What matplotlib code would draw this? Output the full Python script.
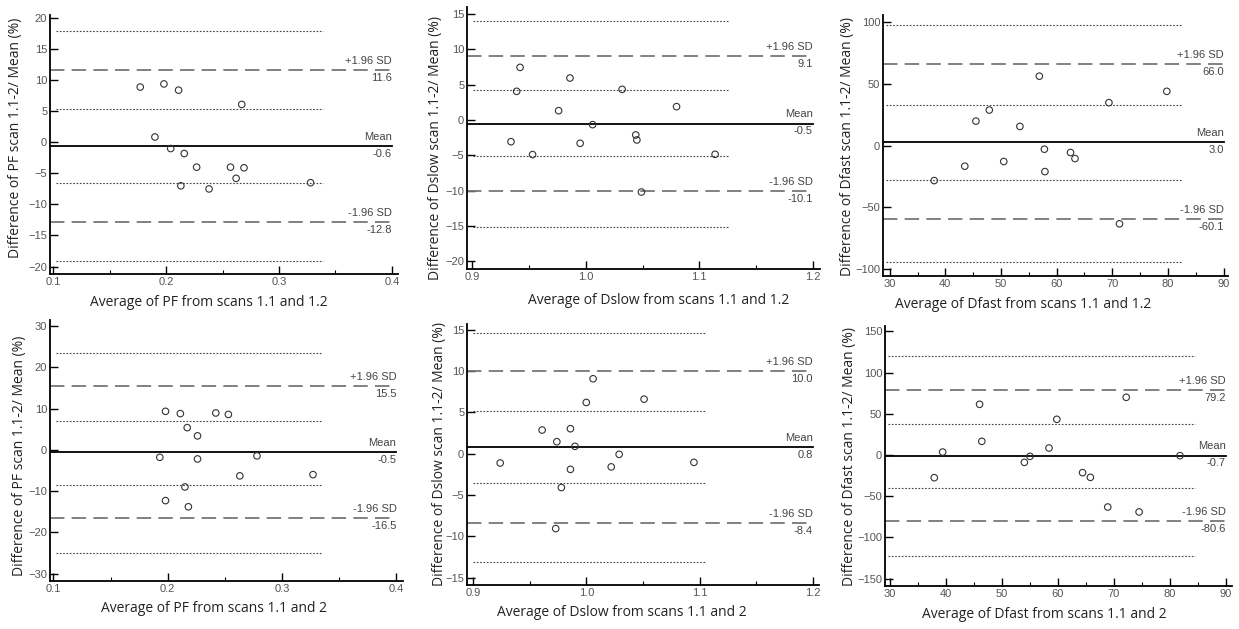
import matplotlib
matplotlib.use("Agg")
import matplotlib.pyplot as plt

# Bland-Altman: % diferenca vs media, 6 paineis (PF, Dslow, Dfast; scans 1.1-1.2 e 1.1-2)
W, H = 1239, 629

# --- dados ---
pf_12_x = [0.177, 0.198, 0.211, 0.267, 0.190, 0.204, 0.216, 0.227, 0.213, 0.238, 0.257, 0.262, 0.269, 0.328]
pf_12_y = [8.9, 9.4, 8.4, 6.1, 0.86, -1.0, -1.8, -4.0, -7.0, -7.5, -4.0, -5.8, -4.1, -6.5]
pf_12_stats = [-0.6, 11.6, -12.8]          # media, +1.96SD, -1.96SD
pf_12_ci = [17.9, 5.3, -6.5, -19.1]

dslow_12_x = [0.942, 0.939, 0.986, 0.976, 0.934, 0.953, 0.995, 1.006, 1.032, 1.044, 1.045, 1.049, 1.080, 1.114]
dslow_12_y = [7.45, 4.06, 5.94, 1.32, -3.07, -4.9, -3.3, -0.66, 4.34, -2.12, -2.83, -10.2, 1.89, -4.86]
dslow_12_stats = [-0.5, 9.1, -10.1]
dslow_12_ci = [14.0, 4.2, -5.1, -15.2]

dfast_12_x = [38.0, 43.5, 45.5, 47.9, 50.5, 53.4, 56.9, 57.8, 57.9, 62.5, 63.3, 69.4, 71.3, 79.8]
dfast_12_y = [-28.5, -16.8, 19.8, 28.8, -13.0, 15.5, 56.3, -3.0, -21.2, -5.7, -10.6, 34.8, -63.6, 44.0]
dfast_12_stats = [3.0, 66.0, -60.1]
dfast_12_ci = [98.1, 33.2, -28.3, -94.3]

pf_2_x = [0.198, 0.211, 0.242, 0.253, 0.217, 0.226, 0.193, 0.226, 0.278, 0.263, 0.327, 0.215, 0.198, 0.218]
pf_2_y = [9.35, 8.8, 8.95, 8.6, 5.4, 3.4, -1.8, -2.2, -1.45, -6.3, -6.0, -9.0, -12.3, -13.8]
pf_2_stats = [-0.5, 15.5, -16.5]
pf_2_ci = [23.5, 7.1, -8.4, -25.0]

dslow_2_x = [0.924, 0.961, 0.974, 0.986, 0.990, 0.986, 0.978, 0.973, 1.000, 1.006, 1.022, 1.029, 1.051, 1.095]
dslow_2_y = [-1.13, 2.86, 1.45, 3.02, 0.89, -1.9, -4.1, -9.07, 6.2, 9.07, -1.6, -0.08, 6.6, -1.05]
dslow_2_stats = [0.8, 10.0, -8.4]
dslow_2_ci = [14.6, 5.2, -3.6, -13.1]

dfast_2_x = [37.9, 39.4, 46.0, 46.4, 54.0, 55.0, 58.4, 59.8, 64.4, 65.8, 68.9, 72.2, 74.5, 81.8]
dfast_2_y = [-27.5, 3.6, 61.5, 16.6, -8.9, -1.6, 8.5, 43.3, -21.4, -27.1, -63.1, 70.0, -69.1, -0.8]
dfast_2_stats = [-0.7, 79.2, -80.6]
dfast_2_ci = [120.3, 37.5, -40.5, -122.3]

paineis = [
    dict(x=pf_12_x, y=pf_12_y, st=pf_12_stats, ci=pf_12_ci, box=(50, 15, 398, 274),
         xlim=(0.097, 0.4055), ylim=(-21.2, 20.5), xt=[0.1, 0.2, 0.3, 0.4], xfmt="%.1f",
         yt=[20, 15, 10, 5, 0, -5, -10, -15, -20], dot_end=0.339,
         xl="Average of PF from scans 1.1 and 1.2", yl="Difference of PF scan 1.1-2/ Mean (%)",
         xlpos=(209, 302), ylpos=(16, 138)),
    dict(x=dslow_12_x, y=dslow_12_y, st=dslow_12_stats, ci=dslow_12_ci, box=(467, 7, 820, 269),
         xlim=(0.8952, 1.2065), ylim=(-21.1, 16.0), xt=[0.9, 1.0, 1.1, 1.2], xfmt="%.1f",
         yt=[15, 10, 5, 0, -5, -10, -15, -20], dot_end=1.1256,
         xl="Average of Dslow from scans 1.1 and 1.2", yl="Difference of Dslow scan 1.1-2/ Mean (%)",
         xlpos=(659, 300), ylpos=(435, 148)),
    dict(x=dfast_12_x, y=dfast_12_y, st=dfast_12_stats, ci=dfast_12_ci, box=(883, 15, 1228, 276),
         xlim=(28.8, 90.8), ylim=(-106, 106), xt=[30, 40, 50, 60, 70, 80, 90], xfmt="%d",
         yt=[100, 50, 0, -50, -100], dot_end=82.4,
         xl="Average of Dfast from scans 1.1 and 1.2", yl="Difference of Dfast scan 1.1-2/ Mean (%)",
         xlpos=(1023, 305), ylpos=(848, 146)),
    dict(x=pf_2_x, y=pf_2_y, st=pf_2_stats, ci=pf_2_ci, box=(50, 320, 403, 581),
         xlim=(0.097, 0.4057), ylim=(-31.8, 31.5), xt=[0.1, 0.2, 0.3, 0.4], xfmt="%.1f",
         yt=[30, 20, 10, 0, -10, -20, -30], dot_end=0.335,
         xl="Average of PF from scans 1.1 and 2", yl="Difference of PF scan 1.1-2/ Mean (%)",
         xlpos=(214, 609), ylpos=(20, 456)),
    dict(x=dslow_2_x, y=dslow_2_y, st=dslow_2_stats, ci=dslow_2_ci, box=(467, 324, 819, 585),
         xlim=(0.8947, 1.2054), ylim=(-15.9, 15.7), xt=[0.9, 1.0, 1.1, 1.2], xfmt="%.1f",
         yt=[15, 10, 5, 0, -5, -10, -15], dot_end=1.106,
         xl="Average of Dslow from scans 1.1 and 2", yl="Difference of Dslow scan 1.1-2/ Mean (%)",
         xlpos=(622, 613), ylpos=(439, 454)),
    dict(x=dfast_2_x, y=dfast_2_y, st=dfast_2_stats, ci=dfast_2_ci, box=(885, 326, 1232, 586),
         xlim=(29.1, 91.1), ylim=(-158.9, 156.5), xt=[30, 40, 50, 60, 70, 80, 90], xfmt="%d",
         yt=[150, 100, 50, 0, -50, -100, -150], dot_end=84.5,
         xl="Average of Dfast from scans 1.1 and 2", yl="Difference of Dfast scan 1.1-2/ Mean (%)",
         xlpos=(1044, 614), ylpos=(849, 457)),
]

fig = plt.figure(figsize=(W / 100, H / 100), dpi=100)
cinza = "#555555"

for p in paineis:
    l, t, r, b = p["box"]
    ax = fig.add_axes([l / W, 1 - b / H, (r - l) / W, (b - t) / H])
    ax.set_xlim(*p["xlim"])
    ax.set_ylim(*p["ylim"])
    x0, x1 = p["xlim"][0], p["xt"][-1]

    media, sup, inf = p["st"]
    # linhas de IC (pontilhadas)
    for v in p["ci"]:
        ax.plot([x0 + (p["xt"][1] - p["xt"][0]) * 0.05, p["dot_end"]], [v, v], color="#444444",
                lw=0.8, linestyle=(0, (1.5, 1.5)))
    # limites de concordancia
    for v in (sup, inf):
        ax.plot([x0, x1], [v, v], color="#777777", lw=1.3, linestyle=(0, (8, 4)))
    ax.plot([x0, x1], [media, media], color="black", lw=1.3)

    rot = [("+1.96 SD", sup), ("Mean", media), ("-1.96 SD", inf)]
    for nome, v in rot:
        ax.annotate(nome, (x1, v), xytext=(0, 3), textcoords="offset points", ha="right", va="bottom",
                    fontsize=8, color="#444444", family="Liberation Sans")
        ax.annotate("%.1f" % v, (x1, v), xytext=(0, -2), textcoords="offset points", ha="right", va="top",
                    fontsize=8, color="#444444", family="Liberation Sans")

    ax.scatter(p["x"], p["y"], s=22, facecolors="none", edgecolors="#333333", linewidths=0.8, zorder=3)

    for s in ("top", "right"):
        ax.spines[s].set_visible(False)
    for s in ("left", "bottom"):
        ax.spines[s].set_linewidth(1.3)
    ax.set_xticks(p["xt"])
    ax.set_xticklabels([p["xfmt"] % v for v in p["xt"]])
    passo = p["xt"][1] - p["xt"][0]
    ax.set_xticks([v + passo / 2 for v in p["xt"][:-1]], minor=True)
    ax.set_yticks(p["yt"])
    ax.tick_params(axis="both", which="major", direction="in", length=6, width=1.0,
                   labelsize=8, labelcolor=cinza, pad=2)
    ax.tick_params(axis="x", which="minor", direction="in", length=3, width=0.8)
    for lb in ax.get_xticklabels() + ax.get_yticklabels():
        lb.set_family("Liberation Sans")

    ax.set_xlabel(p["xl"], fontsize=10, family="Open Sans", color="#222222")
    ax.set_ylabel(p["yl"], fontsize=10, family="Open Sans", color="#222222")
    ax.xaxis.set_label_coords(p["xlpos"][0] / W, 1 - p["xlpos"][1] / H, transform=fig.transFigure)
    ax.yaxis.set_label_coords(p["ylpos"][0] / W, 1 - p["ylpos"][1] / H, transform=fig.transFigure)
    ax.xaxis.label.set_va("center")
    ax.yaxis.label.set_va("center")

plt.savefig("out.png", dpi=100)
